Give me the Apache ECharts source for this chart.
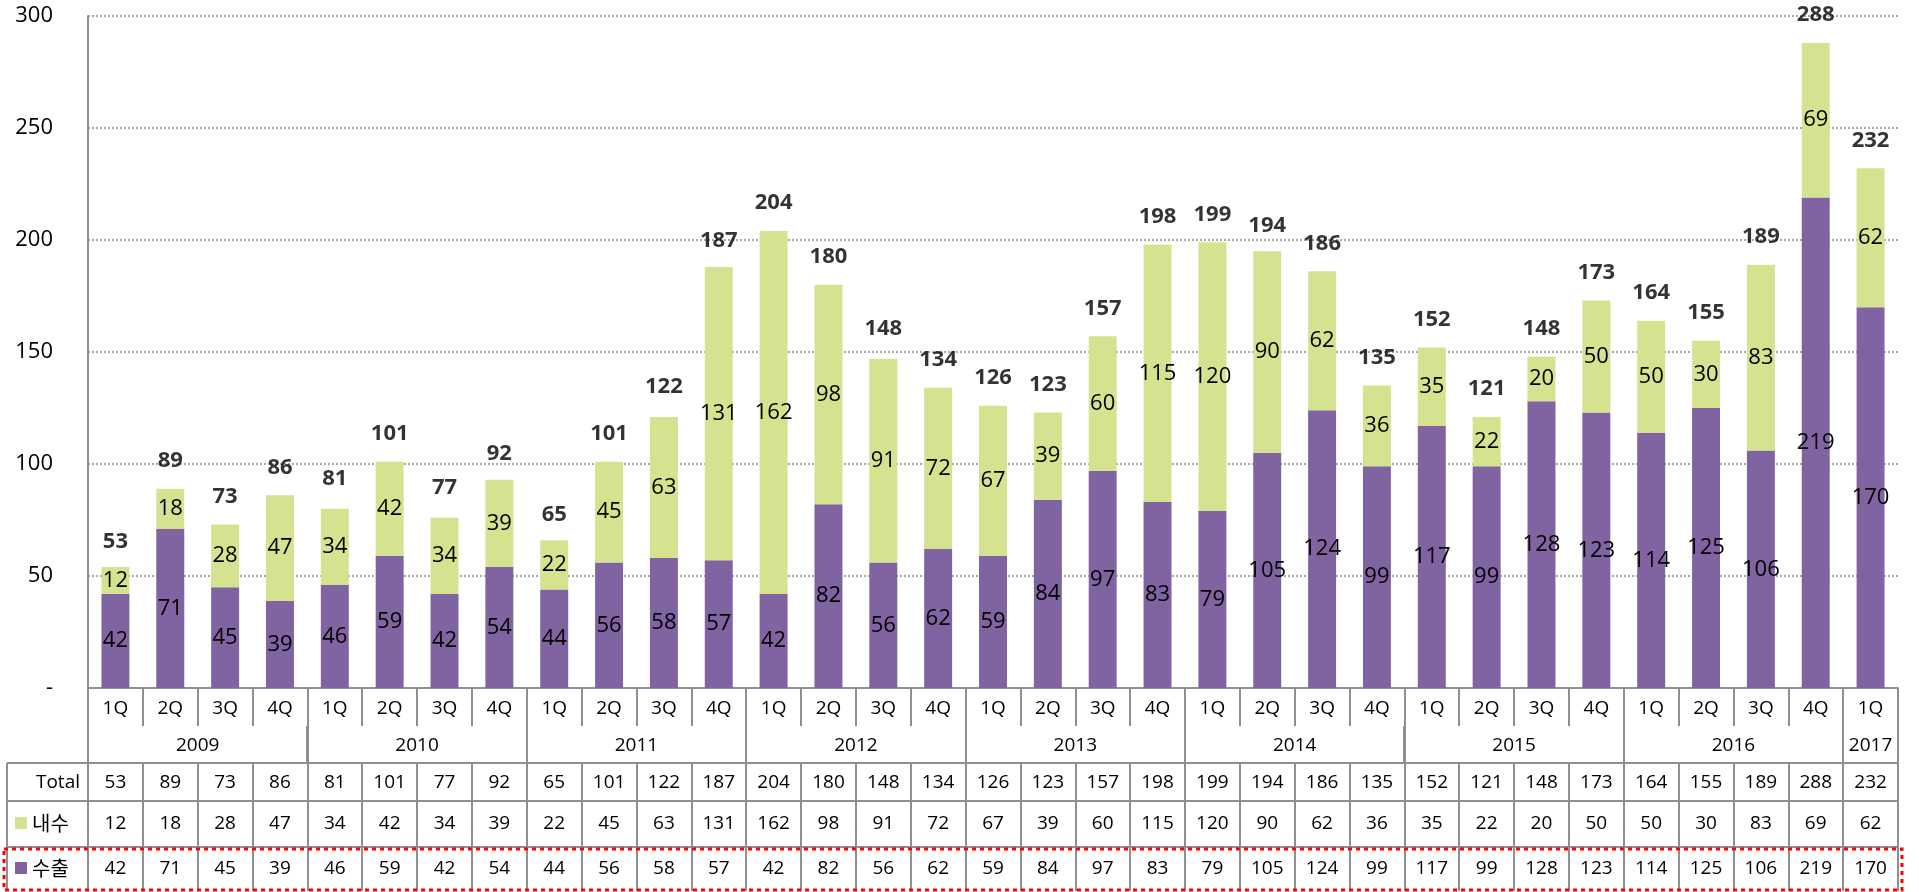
<!DOCTYPE html>
<html>
<head>
<meta charset="utf-8">
<script src="https://cdn.jsdelivr.net/npm/echarts@6/dist/echarts.min.js"></script>
<style>
html,body{margin:0;padding:0;background:#fff;}
#chart{width:1919px;height:892px;}
</style>
</head>
<body>
<div id="chart"></div>
<script>
// ---------------- data ----------------
const years = ['2009','2010','2011','2012','2013','2014','2015','2016','2017'];
const quartersPerYear = [4,4,4,4,4,4,4,4,1];
const quarterNames = ['1Q','2Q','3Q','4Q'];
const totalValues = [53,89,73,86,81,101,77,92,65,101,122,187,204,180,148,134,126,123,157,198,199,194,186,135,152,121,148,173,164,155,189,288,232];
const domesticValues = [12,18,28,47,34,42,34,39,22,45,63,131,162,98,91,72,67,39,60,115,120,90,62,36,35,22,20,50,50,30,83,69,62];
const exportValues = [42,71,45,39,46,59,42,54,44,56,58,57,42,82,56,62,59,84,97,83,79,105,124,99,117,99,128,123,114,125,106,219,170];
const seriesNames = ['내수','수출'];
const totalRowLabel = 'Total';

// ---------------- derived categories ----------------
const quarterLabels = [];
quartersPerYear.forEach(n => { for (let i = 0; i < n; i++) quarterLabels.push(quarterNames[i]); });
const nCat = quarterLabels.length;
// half-slot axis (boundaryGap:false) : 2*nCat+1 points -> boundaries & group centres
const yearSlots = new Array(2 * nCat + 1).fill('');
const yearBoundary = new Set();
let acc = 0;
years.forEach((y, i) => {
  const n = quartersPerYear[i];
  yearSlots[2 * acc + n] = y;
  yearBoundary.add(2 * acc);
  yearBoundary.add(2 * (acc + n));
  acc += n;
});

// ---------------- layout ----------------
const FONT = "'Open Sans','Noto Sans CJK KR',sans-serif";
const KFONT = "'Noto Sans CJK KR','Open Sans',sans-serif";
const LINE = '#8f8f8f';
const gridLeft = 88, gridRight = 21, gridTop = 16, axisY = 688;
const rowQ = 38, rowY = 37, rowT = 38, rowD = 46, rowE = 44;
const offY = rowQ, offT = rowQ + rowY, offD = offT + rowT, offE = offD + rowD;

function tableAxis(data, offset, tickLen, margin, showLine, fmt) {
  return {
    type: 'category', gridIndex: 0, position: 'bottom', offset: offset,
    data: data, boundaryGap: true, silent: true,
    axisLine: { show: showLine, onZero: false, lineStyle: { color: LINE, width: 2 } },
    axisTick: { show: true, interval: 0, length: tickLen, lineStyle: { color: LINE, width: 2 } },
    axisLabel: { interval: 0, margin: margin, verticalAlign: 'middle', color: '#000', fontSize: 19, fontFamily: FONT, formatter: fmt }
  };
}

const chart = echarts.init(document.getElementById('chart'), null, { renderer: 'canvas' });
const option = {
  animation: false,
  backgroundColor: '#fff',
  grid: { left: gridLeft, right: gridRight, top: gridTop, bottom: 892 - axisY, containLabel: false },
  legend: {
    data: seriesNames, orient: 'vertical', left: 15, top: axisY + offD + 12, padding: 0,
    itemWidth: 12, itemHeight: 12, itemGap: 25, icon: 'rect', selectedMode: false,
    textStyle: { fontSize: 20, color: '#000', fontFamily: KFONT, lineHeight: 20 }
  },
  xAxis: [
    tableAxis(quarterLabels, 0, rowQ, 21, true),
    {
      type: 'category', gridIndex: 0, position: 'bottom', offset: offY,
      data: yearSlots, boundaryGap: false, silent: true,
      axisLine: { show: true, onZero: false, lineStyle: { color: 'rgba(0,0,0,0)', width: 0 } },
      axisTick: { show: true, length: rowY, interval: function (i) { return yearBoundary.has(i); }, lineStyle: { color: LINE, width: 2 } },
      axisLabel: { interval: function (i, v) { return v !== ''; }, margin: 20, verticalAlign: 'middle', color: '#000', fontSize: 19, fontFamily: FONT }
    },
    tableAxis(totalValues.map((v, i) => 't' + i), offT, rowT, 20, true, (v, i) => String(totalValues[i])),
    tableAxis(domesticValues.map((v, i) => 'd' + i), offD, rowD, 23, true, (v, i) => String(domesticValues[i])),
    tableAxis(exportValues.map((v, i) => 'e' + i), offE, rowE, 22, true, (v, i) => String(exportValues[i]))
  ],
  yAxis: {
    type: 'value', min: 0, max: 300, interval: 50,
    axisLine: { show: true, lineStyle: { color: LINE, width: 2 } },
    axisTick: { show: false },
    axisLabel: { margin: 35, color: '#000', fontSize: 22, fontFamily: FONT, formatter: v => v === 0 ? '-' : String(v) },
    splitLine: { show: true, lineStyle: { color: '#8a8a8a', width: 1.5, type: [2, 2] } }
  },
  series: [
    {
      name: '수출', type: 'bar', stack: 'q', xAxisIndex: 0, data: exportValues, barWidth: '51%',
      itemStyle: { color: '#8064A2' },
      label: { show: true, position: 'inside', color: '#000', fontSize: 22, fontFamily: FONT }
    },
    {
      name: '내수', type: 'bar', stack: 'q', xAxisIndex: 0, data: domesticValues, barWidth: '51%',
      itemStyle: { color: '#D5E28F' },
      label: { show: true, position: 'inside', color: '#000', fontSize: 22, fontFamily: FONT }
    },
    {
      name: 'Total', type: 'scatter', xAxisIndex: 0, data: totalValues, symbolSize: 0, silent: true, z: 10,
      label: { show: true, position: 'top', distance: 17, color: '#000', fontSize: 22, fontWeight: 'bold', fontFamily: FONT }
    }
  ]
};
chart.setOption(option);

// left header column of the data table, year-row separators, highlight frame
const tTop = axisY + offT, dTop = axisY + offD, eTop = axisY + offE, tBottom = eTop + rowE;
const colLeft = 7;
const yRowTop = axisY + offY;
const yearSepLines = [];
yearBoundary.forEach(function (slot) {
  const x = Math.round(chart.convertToPixel({ xAxisIndex: 1 }, slot));
  yearSepLines.push({ type: 'line', shape: { x1: x, y1: yRowTop, x2: x, y2: tTop }, style: { stroke: LINE, lineWidth: 2 }, silent: true });
});
chart.setOption({
  graphic: yearSepLines.concat([
    { type: 'line', shape: { x1: colLeft, y1: tTop, x2: gridLeft, y2: tTop }, style: { stroke: LINE, lineWidth: 2 }, silent: true },
    { type: 'line', shape: { x1: colLeft, y1: dTop, x2: gridLeft, y2: dTop }, style: { stroke: LINE, lineWidth: 2 }, silent: true },
    { type: 'line', shape: { x1: colLeft, y1: eTop, x2: gridLeft, y2: eTop }, style: { stroke: LINE, lineWidth: 2 }, silent: true },
    { type: 'line', shape: { x1: colLeft, y1: tTop, x2: colLeft, y2: tBottom }, style: { stroke: LINE, lineWidth: 2 }, silent: true },
    { type: 'text', style: { text: totalRowLabel, x: 80, y: tTop + 20, align: 'right', verticalAlign: 'middle', fill: '#000', font: '19px ' + FONT }, silent: true },
    { type: 'rect', shape: { x: 4, y: eTop + 2, width: 1898, height: 41 }, style: { fill: 'none', stroke: '#FF0000', lineWidth: 3, lineDash: [4, 4] }, silent: true, z: 100 }
  ])
});
</script>
</body>
</html>
